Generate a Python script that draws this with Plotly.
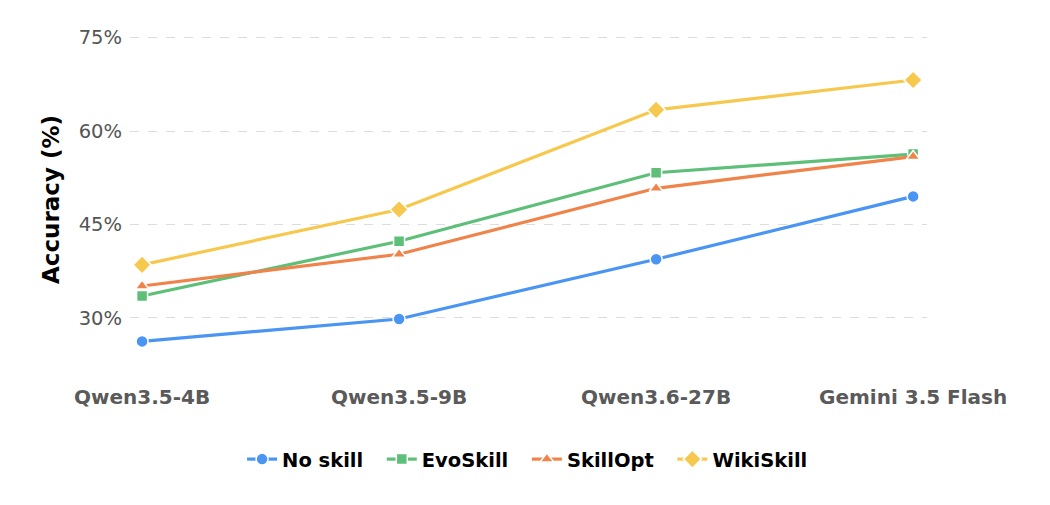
import plotly.graph_objects as go

# Accuracy (%) per model
models = ["Qwen3.5-4B", "Qwen3.5-9B", "Qwen3.6-27B", "Gemini 3.5 Flash"]
no_skill = [26.2, 29.8, 39.4, 49.5]
evo_skill = [33.5, 42.3, 53.3, 56.3]
skill_opt = [35.1, 40.2, 50.8, 55.9]
wiki_skill = [38.5, 47.4, 63.4, 68.2]
y_ticks = [30, 45, 60, 75]
y_tick_labels = ["30%", "45%", "60%", "75%"]

series = [
    ("No skill", no_skill, "#4a94f4", "circle", 12),
    ("EvoSkill", evo_skill, "#5dbf78", "square", 11),
    ("SkillOpt", skill_opt, "#f0834a", "triangle-up", 12),
    ("WikiSkill", wiki_skill, "#f7c84e", "diamond", 14),
]

pad = "\u00a0\u00a0"  # a bit of extra room between legend entries

fig = go.Figure()
for name, vals, color, symbol, size in series:
    fig.add_trace(go.Scatter(
        x=models, y=vals, name=name + pad, mode="lines+markers",
        line=dict(color=color, width=3.2),
        marker=dict(symbol=symbol, size=size, color=color,
                    line=dict(color="white", width=1.5)),
    ))

fig.update_layout(
    width=1050, height=505,
    paper_bgcolor="white", plot_bgcolor="white",
    font=dict(family="DejaVu Sans", size=19, color="#555555"),
    margin=dict(l=122, r=131, t=11, b=133),
    showlegend=True,
    legend=dict(orientation="h", x=0.507, xanchor="center", y=-0.22, yanchor="middle",
                font=dict(size=19.5, color="black", weight="bold"),
                itemwidth=30),
    xaxis=dict(range=[-0.047, 3.054], showgrid=False, zeroline=False, showline=False,
               ticks="", tickfont=dict(size=20, color="#5a5a5a", weight="bold"),
               ticklabelstandoff=3),
    yaxis=dict(range=[20, 78], tickvals=y_ticks, ticktext=y_tick_labels,
               showgrid=True, gridcolor="#dddddd", griddash="dash", gridwidth=1,
               zeroline=False, showline=False, ticks="", ticklabelstandoff=7,
               tickfont=dict(size=19.5, color="#555555"),
               title=dict(text="\u00a0Accuracy (%)",
                          font=dict(size=23, color="black", weight="bold"),
                          standoff=12)),
)

fig.write_html("out.html")
